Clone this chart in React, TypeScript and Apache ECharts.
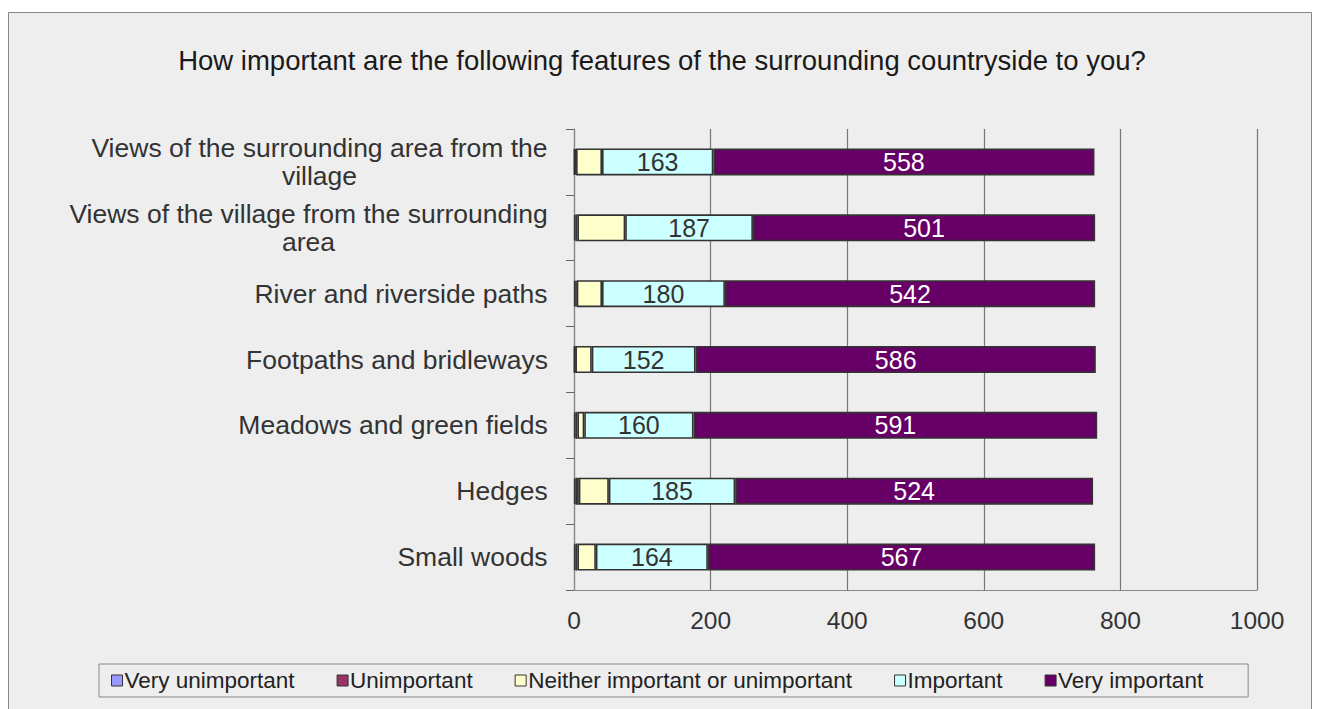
import React, { useEffect, useRef } from "react";
import * as echarts from "echarts";

const categories = [
  "Views of the surrounding area from the\nvillage",
  "Views of the village from the surrounding\narea",
  "River and riverside paths",
  "Footpaths and bridleways",
  "Meadows and green fields",
  "Hedges",
  "Small woods",
];
const seriesNames = [
  "Very unimportant",
  "Unimportant",
  "Neither important or unimportant",
  "Important",
  "Very important",
];
const veryUnimportant = [1, 2, 2, 1, 2, 2, 2];
const unimportant = [2, 3, 2, 1, 3, 5, 3];
const neither = [38, 70, 37, 24, 10, 44, 27];
const important = [163, 187, 180, 152, 160, 185, 164];
const veryImportant = [558, 501, 542, 586, 591, 524, 567];
const xTicks = [0, 200, 400, 600, 800, 1000];

const colors = ["#9999FF", "#993366", "#FFFFCC", "#CCFFFF", "#660066"];
const FONT = '"Liberation Sans", Arial, sans-serif';
const LABEL_SIZE = 26.5;
const DATA_SIZE = 25;

export default function App() {
  const ref = useRef<HTMLDivElement>(null);
  useEffect(() => {
    document.body.style.margin = "0";
    document.body.style.background = "#ffffff";
    if (!ref.current) return;
    const chart = echarts.init(ref.current, undefined, { renderer: "svg" });

    const canvas = document.createElement("canvas");
    const ctx = canvas.getContext("2d")!;
    ctx.font = `${LABEL_SIZE}px ${FONT}`;
    const rich: Record<string, any> = {};
    categories.forEach((c, i) => {
      const lines = c.split("\n");
      const w = Math.ceil(Math.max(...lines.map((l) => ctx.measureText(l).width)));
      rich["c" + i] = {
        width: w,
        align: "center",
        fontSize: LABEL_SIZE,
        fontFamily: FONT,
        color: "#333333",
        lineHeight: 28,
      };
    });

    const dataSets = [veryUnimportant, unimportant, neither, important, veryImportant];
    const series = dataSets.map((d, i) => ({
      name: seriesNames[i],
      type: "bar",
      stack: "total",
      barWidth: 27,
      data: d,
      itemStyle: { color: colors[i], borderColor: "#333333", borderWidth: 1.6 },
      label:
        i >= 3
          ? {
              show: true,
              position: "inside",
              fontSize: DATA_SIZE,
              fontFamily: FONT,
              color: i === 4 ? "#ffffff" : "#333333",
            }
          : { show: false },
    }));

    chart.setOption({
      animation: false,
      backgroundColor: "#ffffff",
      title: {
        text: "How important are the following features of the surrounding countryside to you?",
        left: 657,
        textAlign: "center",
        top: 41,
        textStyle: { fontSize: 27.5, fontWeight: "normal", fontFamily: FONT, color: "#1a1a1a" },
      },
      graphic: [
        {
          type: "rect",
          z: -10,
          shape: { x: 8.5, y: 12.5, width: 1303, height: 710 },
          style: { fill: "#EEEEEE", stroke: "#888888", lineWidth: 1 },
        },
      ],
      legend: {
        data: seriesNames,
        left: 99,
        top: 664,
        orient: "horizontal",
        backgroundColor: "#EEEEEE",
        borderColor: "#888888",
        borderWidth: 1,
        padding: [5, 45, 5, 12],
        itemGap: 42,
        itemWidth: 11,
        itemHeight: 11,
        icon: "rect",
        itemStyle: { borderColor: "#333333", borderWidth: 1 },
        textStyle: { fontSize: 22.5, fontFamily: FONT, color: "#222222", padding: [0, 0, 0, -3] },
      },
      grid: { left: 574, right: 61, top: 129, bottom: 119, containLabel: false },
      xAxis: {
        type: "value",
        min: xTicks[0],
        max: xTicks[xTicks.length - 1],
        interval: 200,
        axisLine: { show: true, lineStyle: { color: "#888888", width: 1 } },
        axisTick: { show: false },
        splitLine: { show: true, lineStyle: { color: "#777777", width: 1.2 } },
        axisLabel: {
          fontSize: 24.5,
          fontFamily: FONT,
          color: "#333333",
          margin: 18,
          formatter: (v: number) => String(v),
        },
      },
      yAxis: {
        type: "category",
        inverse: true,
        data: categories,
        axisLine: { show: true, lineStyle: { color: "#888888", width: 1.2 } },
        axisTick: { show: true, length: 8, lineStyle: { color: "#666666" } },
        axisLabel: {
          margin: 26,
          fontSize: LABEL_SIZE,
          fontFamily: FONT,
          color: "#333333",
          lineHeight: 28,
          formatter: (v: string) => {
            const i = categories.indexOf(v);
            return v
              .split("\n")
              .map((l) => `{c${i}|${l}}`)
              .join("\n");
          },
          rich,
        },
      },
      series,
    });
    return () => chart.dispose();
  }, []);
  return <div ref={ref} style={{ width: 1318, height: 709 }} />;
}
